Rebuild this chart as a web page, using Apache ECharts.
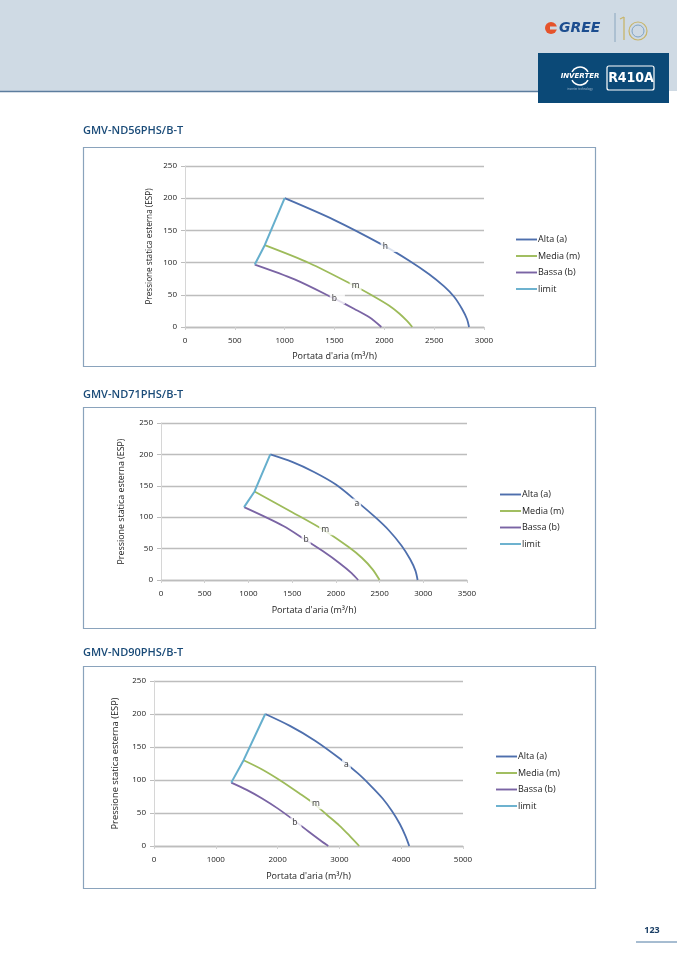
<!DOCTYPE html>
<html><head><meta charset="utf-8">
<script src="https://cdn.jsdelivr.net/npm/echarts@6/dist/echarts.min.js"></script>
<style>html,body{margin:0;padding:0;background:#fff}#c{width:677px;height:958px}</style>
</head><body><div id="c"></div>
<script>
// ---------- data ----------
const seriesNames = ['Alta (a)', 'Media (m)', 'Bassa (b)', 'limit'];
const chartTitles = ['GMV-ND56PHS/B-T', 'GMV-ND71PHS/B-T', 'GMV-ND90PHS/B-T'];
const xTitle = "Portata d'aria (m³/h)";
const yTitle = 'Pressione statica esterna (ESP)';
const xMax = [3000, 3500, 5000];
const xInterval = [500, 500, 1000];

// Chart 1: GMV-ND56PHS/B-T
const c1Alta  = [[1000,200],[1500,166],[2000,126],[2250,103],[2450,82],[2600,63],[2700,47],[2780,28],[2830,12],[2850,0]];
const c1Media = [[800,127],[1250,99],[1700,64],[1900,47],[2050,33],[2150,21],[2230,9],[2280,0]];
const c1Bassa = [[700,97],[1100,74],[1500,44],[1700,28],[1850,15],[1970,0]];
const c1Limit = [[700,97],[800,127],[1000,200]];
const c1Labels = [[2003,125,'h',18],[1692,65,'m',2],[1492,44,'b',8]];

// Chart 2: GMV-ND71PHS/B-T
const c2Alta  = [[1250,200],[1500,188],[1750,172],[2000,152],[2250,124],[2450,100],[2600,80],[2750,55],[2850,33],[2910,15],[2935,0]];
const c2Media = [[1070,141],[1500,108],[1855,80],[2150,52],[2300,35],[2420,17],[2500,0]];
const c2Bassa = [[950,116],[1400,86],[1650,64],[1850,46],[2050,26],[2180,11],[2255,0]];
const c2Limit = [[950,116],[1070,141],[1250,200]];
const c2Labels = [[2235,121,'a',2],[1855,80,'m',16],[1653,64,'b',2]];

// Chart 3: GMV-ND90PHS/B-T
const c3Alta  = [[1800,200],[2200,182],[2600,160],[3000,133],[3300,110],[3500,92],[3700,72],[3850,53],[3980,33],[4070,15],[4130,0]];
const c3Media = [[1450,130],[1750,116],[2050,99],[2350,80],[2590,64],[2800,47],[3000,31],[3170,15],[3320,0]];
const c3Bassa = [[1250,96],[1500,85],[1750,72],[2000,57],[2250,40],[2500,22],[2700,8],[2820,0]];
const c3Limit = [[1250,96],[1450,130],[1800,200]];
const c3Labels = [[3108,123,'a',2],[2589,64,'m',16],[2270,35,'b',4]];

// ---------- layout / style ----------
const colors = ['#4E6FAD', '#9DBB5A', '#7A64A4', '#66AFCD'];
const widths = [1.8, 1.8, 1.8, 2];
const grids = [
  {left:185, top:166, width:299, height:161},
  {left:161, top:423, width:306, height:157},
  {left:154, top:681, width:309, height:165}
];
const frames = [[83,147,512,219],[83,407,512,221],[83,666,512,222]];
const titleY = [131, 395, 653];
const legendPos = [[511,230],[495,485],[491,747]];
const yNameGap = [31, 35, 34];
const yNameSize = [8.2, 8.9, 9.3];
const xNameGap = [25, 26, 26];
const FONT = '"Open Sans", "DejaVu Sans", sans-serif';

const allData = [
  [c1Alta, c1Media, c1Bassa, c1Limit, c1Labels],
  [c2Alta, c2Media, c2Bassa, c2Limit, c2Labels],
  [c3Alta, c3Media, c3Bassa, c3Limit, c3Labels]
];

const xAxes = [], yAxes = [], series = [], legends = [];
for (let i = 0; i < 3; i++) {
  xAxes.push({
    type:'value', gridIndex:i, min:0, max:xMax[i], interval:xInterval[i],
    name:xTitle, nameLocation:'middle', nameGap:xNameGap[i],
    nameTextStyle:{fontFamily:FONT, fontSize:9, color:'#222', fontWeight:500},
    axisLine:{show:true, lineStyle:{color:'#BDBDBD', width:1.3}},
    axisTick:{show:true, length:3, lineStyle:{color:'#D0D0D0'}},
    axisLabel:{fontFamily:FONT, fontSize:8, color:'#222', margin:10, formatter: v => String(v)},
    splitLine:{show:false}
  });
  yAxes.push({
    type:'value', gridIndex:i, min:0, max:250, interval:50,
    name:yTitle, nameLocation:'middle', nameGap:yNameGap[i], nameRotate:90,
    nameTextStyle:{fontFamily:FONT, fontSize:yNameSize[i], color:'#222', fontWeight:500},
    axisLine:{show:true, lineStyle:{color:'#D6D6D6', width:1}},
    axisTick:{show:true, length:4, lineStyle:{color:'#BDBDBD'}},
    axisLabel:{fontFamily:FONT, fontSize:8, color:'#222', margin:8, formatter: v => String(v)},
    splitLine:{show:true, lineStyle:{color:'#BDBDBD', width:1.3}}
  });
  for (let s = 0; s < 4; s++) {
    series.push({
      type:'line', name:seriesNames[s], xAxisIndex:i, yAxisIndex:i,
      data:allData[i][s], showSymbol:false, symbol:'none',
      smooth: s === 3 ? false : 0.3,
      lineStyle:{color:colors[s], width:widths[s]}, itemStyle:{color:colors[s]},
      z: s === 3 ? 3 : 2
    });
  }
  series.push({
    type:'scatter', name:'lbl'+i, xAxisIndex:i, yAxisIndex:i, symbolSize:0, z:10,
    data:allData[i][4].map(d => ({
      value:[d[0], d[1]], txt:d[2],
      label:{backgroundColor:'#fff', padding:[1, d[3], 1, 2], align:'left', offset:[-4, 0]}
    })),
    label:{show:true, position:'inside', color:'#000', fontFamily:FONT, fontSize:8.5,
      formatter: p => p.data.txt},
    emphasis:{disabled:true}
  });
  legends.push({
    orient:'vertical', left:legendPos[i][0], top:legendPos[i][1],
    data:seriesNames, itemWidth:21, itemHeight:12, itemGap:7.5,
    icon:'path://M0,5 L22,5 L22,7 L0,7 Z',
    selectedMode:false,
    textStyle:{fontFamily:FONT, fontSize:9, color:'#222', fontWeight:500, padding:[0,0,0,-4]},
    itemStyle:{borderWidth:0}
  });
}

const graphics = [
  {type:'rect', shape:{x:0, y:0, width:677, height:91}, style:{fill:'#CFDAE4'}, silent:true},
  {type:'line', shape:{x1:0, y1:91.5, x2:540, y2:91.5}, style:{stroke:'#5C7D9E', lineWidth:1.3}},
  // GREE logo
  {type:'circle', shape:{cx:551, cy:28, r:6}, style:{fill:'#E5532B'}},
  {type:'rect', shape:{x:550, y:26.5, width:7, height:3}, style:{fill:'#CFDAE4'}},
  {type:'text', style:{x:559, y:28, text:'GREE', font:'italic bold 14px "DejaVu Sans", sans-serif', fill:'#1C4D8F', verticalAlign:'middle'}},
  {type:'line', shape:{x1:615, y1:13, x2:615, y2:42}, style:{stroke:'#8AA6BE', lineWidth:1}},
  {type:'line', shape:{x1:624, y1:17, x2:624, y2:40}, style:{stroke:'#C8B56A', lineWidth:1.3}},
  {type:'line', shape:{x1:620, y1:19, x2:624, y2:17}, style:{stroke:'#C8B56A', lineWidth:1.3}},
  {type:'circle', shape:{cx:638, cy:31, r:9}, style:{fill:'none', stroke:'#C8B56A', lineWidth:1.2}},
  {type:'circle', shape:{cx:638, cy:31, r:6}, style:{fill:'none', stroke:'#7FA3C4', lineWidth:1}},
  // INVERTER / R410A box
  {type:'rect', shape:{x:538, y:53, width:131, height:50}, style:{fill:'#0B4977'}},
  {type:'arc', shape:{cx:580, cy:76, r:9, startAngle:Math.PI*1.15, endAngle:Math.PI*1.85}, style:{stroke:'#fff', lineWidth:1.5, fill:'none'}},
  {type:'arc', shape:{cx:580, cy:76, r:9, startAngle:Math.PI*0.15, endAngle:Math.PI*0.85}, style:{stroke:'#fff', lineWidth:1.5, fill:'none'}},
  {type:'text', style:{x:580, y:76, text:'INVERTER', font:'italic bold 7px "DejaVu Sans", sans-serif', fill:'#fff', align:'center', verticalAlign:'middle'}},
  {type:'text', style:{x:580, y:89, text:'inverter technology', font:'3px sans-serif', fill:'#9FB6CC', align:'center', verticalAlign:'middle'}},
  {type:'rect', shape:{x:607, y:66, width:47, height:24, r:2}, style:{fill:'none', stroke:'#fff', lineWidth:1.2}},
  {type:'text', style:{x:631, y:78.5, text:'R410A', font:'bold 14px "Liberation Sans Narrow", "DejaVu Sans Condensed", sans-serif', fill:'#fff', align:'center', verticalAlign:'middle'}},
  // page number
  {type:'text', style:{x:652, y:930, text:'123', font:'bold 9px ' + FONT, fill:'#1B3F66', align:'center', verticalAlign:'middle'}},
  {type:'line', shape:{x1:636, y1:942, x2:677, y2:942}, style:{stroke:'#4F7BA3', lineWidth:1}}
];
for (let i = 0; i < 3; i++) {
  const f = frames[i];
  graphics.push({type:'rect', shape:{x:f[0]+0.5, y:f[1]+0.5, width:f[2], height:f[3]}, style:{fill:'none', stroke:'#8AA3BC', lineWidth:1.2}, silent:true, z:-1});
  graphics.push({type:'text', style:{x:83, y:titleY[i], text:chartTitles[i], font:'600 11px ' + FONT, fill:'#1A4B78', verticalAlign:'middle'}});
}

const chart = echarts.init(document.getElementById('c'), null, {renderer:'canvas'});
chart.setOption({
  animation:false,
  backgroundColor:'#fff',
  grid:grids,
  xAxis:xAxes, yAxis:yAxes,
  legend:legends,
  series:series,
  graphic:graphics
});
</script></body></html>
